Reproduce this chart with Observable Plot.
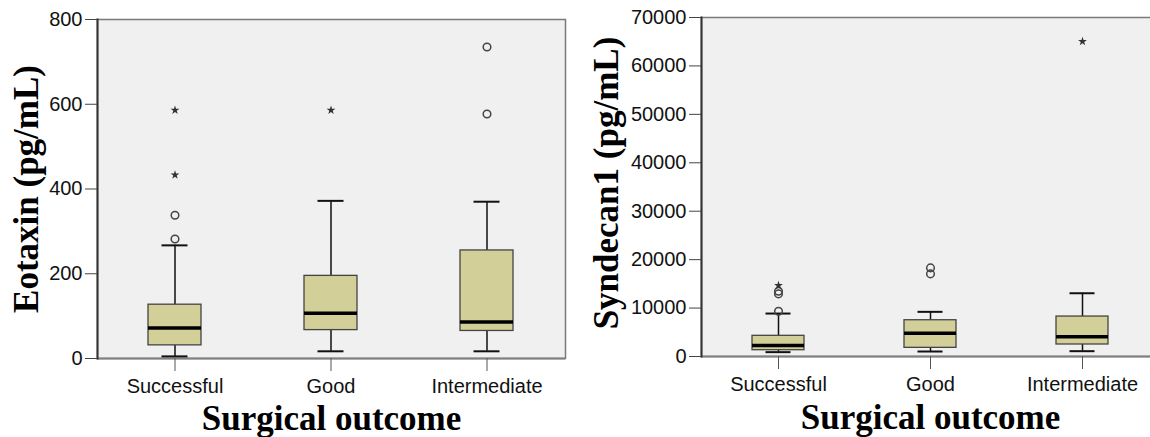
<!DOCTYPE html>
<html>
<head>
<meta charset="utf-8">
<script src="https://cdn.jsdelivr.net/npm/d3@7"></script>
<script src="https://cdn.jsdelivr.net/npm/@observablehq/plot@0.6"></script>
<style>
  html, body { margin: 0; padding: 0; background: white; }
  body { width: 1150px; height: 437px; overflow: hidden; position: relative; }
  .panel { position: absolute; top: 0; }
</style>
</head>
<body>
<div id="left" class="panel" style="left:0px;width:575px;"></div>
<div id="right" class="panel" style="left:575px;width:590px;"></div>
<script>
// ---- Data ----
const categories = ["Successful", "Good", "Intermediate"];

const eotaxinTicks = [0, 200, 400, 600, 800];
const eotaxinLow    = [5, 17, 17];
const eotaxinQ1     = [31, 67, 65];
const eotaxinMedian = [72, 107, 86];
const eotaxinQ3     = [127, 195, 255];
const eotaxinHigh   = [267, 372, 370];
const eotaxinCircleCat = ["Successful", "Successful", "Intermediate", "Intermediate"];
const eotaxinCircleVal = [282, 338, 577, 735];
const eotaxinStarCat   = ["Successful", "Successful", "Good"];
const eotaxinStarVal   = [433, 586, 586];

const syndecanTicks = [0, 10000, 20000, 30000, 40000, 50000, 60000, 70000];
const syndecanLow    = [900, 1030, 1100];
const syndecanQ1     = [1300, 1790, 2480];
const syndecanMedian = [2270, 4810, 4060];
const syndecanQ3     = [4270, 7490, 8250];
const syndecanHigh   = [8870, 9220, 13060];
const syndecanCircleCat = ["Successful", "Successful", "Successful", "Good", "Good"];
const syndecanCircleVal = [9350, 12930, 13470, 17060, 18300];
const syndecanStarCat   = ["Successful", "Intermediate"];
const syndecanStarVal   = [14650, 65050];

const xTitle = "Surgical outcome";

// ---- Helpers ----
function stats(low, q1, med, q3, high) {
  return categories.map((c, i) => ({cat: c, lo: low[i], q1: q1[i], med: med[i], q3: q3[i], hi: high[i]}));
}
function pts(cats, vals) { return cats.map((c, i) => ({cat: c, v: vals[i]})); }

function panel({width, marginLeft, marginRight, marginTop, marginBottom, domain, ticks, box, circles, stars, yTitle, yTitleDx, yTitleDy, xTitleDy}) {
  return Plot.plot({
    width, height: 437,
    marginLeft, marginRight, marginTop, marginBottom,
    style: {background: "white", overflow: "visible"},
    x: {domain: categories, paddingInner: 0.66, paddingOuter: 0.33, label: null},
    y: {domain, label: null},
    marks: [
      Plot.frame({fill: "#f0f0f0", stroke: "#7a7a7a", strokeWidth: 1.5}),
      Plot.ruleY([0], {stroke: "#808080", strokeWidth: 2}),
      Plot.frame({anchor: "left", stroke: "#333", strokeWidth: 2}),
      Plot.axisY({ticks, tickSize: 12, tickPadding: 3, tickFormat: d => String(d),
        fontSize: 20, fontFamily: "Liberation Sans, Arial, sans-serif", stroke: "#444", fill: "#111", label: null}),
      Plot.axisX({tickSize: 13, tickPadding: 7, fontSize: 20,
        fontFamily: "Liberation Sans, Arial, sans-serif", stroke: "#555", fill: "#111", label: null}),
      Plot.ruleX(box, {x: "cat", y1: "lo", y2: "q1", stroke: "#111", strokeWidth: 1.5}),
      Plot.ruleX(box, {x: "cat", y1: "q3", y2: "hi", stroke: "#111", strokeWidth: 1.5}),
      Plot.tickY(box, {x: "cat", y: "lo", inset: 13.5, stroke: "#111", strokeWidth: 2}),
      Plot.tickY(box, {x: "cat", y: "hi", inset: 13.5, stroke: "#111", strokeWidth: 2}),
      Plot.barY(box, {x: "cat", y1: "q1", y2: "q3", fill: "#d3cf99", stroke: "#444", strokeWidth: 1.3}),
      Plot.tickY(box, {x: "cat", y: "med", stroke: "black", strokeWidth: 3.5}),
      Plot.dot(circles, {x: "cat", y: "v", r: 3.8, stroke: "#444", strokeWidth: 1.5, fill: "none"}),
      Plot.dot(stars, {x: "cat", y: "v", symbol: "star", r: 2.8, fill: "#333", stroke: "none"}),
      Plot.text([yTitle], {text: d => d, frameAnchor: "left", dx: yTitleDx, dy: yTitleDy, rotate: -90,
        lineAnchor: "bottom", textAnchor: "middle", fontSize: 35, fontWeight: "bold",
        fontFamily: "Liberation Serif, Times New Roman, serif", fill: "black"}),
      Plot.text([xTitle], {text: d => d, frameAnchor: "bottom", dy: xTitleDy,
        lineAnchor: "bottom", textAnchor: "middle", fontSize: 35, fontWeight: "bold",
        fontFamily: "Liberation Serif, Times New Roman, serif", fill: "black"})
    ]
  });
}

document.getElementById("left").append(panel({
  width: 575, marginLeft: 97, marginRight: 10, marginTop: 19, marginBottom: 79,
  domain: [0, 800], ticks: eotaxinTicks,
  box: stats(eotaxinLow, eotaxinQ1, eotaxinMedian, eotaxinQ3, eotaxinHigh),
  circles: pts(eotaxinCircleCat, eotaxinCircleVal),
  stars: pts(eotaxinStarCat, eotaxinStarVal),
  yTitle: "Eotaxin (pg/mL)", yTitleDx: -60, yTitleDy: 0, xTitleDy: 71
}));

document.getElementById("right").append(panel({
  width: 590, marginLeft: 126, marginRight: 6, marginTop: 17, marginBottom: 81,
  domain: [0, 70000], ticks: syndecanTicks,
  box: stats(syndecanLow, syndecanQ1, syndecanMedian, syndecanQ3, syndecanHigh),
  circles: pts(syndecanCircleCat, syndecanCircleVal),
  stars: pts(syndecanStarCat, syndecanStarVal),
  yTitle: "Syndecan1 (pg/mL)", yTitleDx: -84, yTitleDy: -4, xTitleDy: 72
}));
</script>
</body>
</html>
